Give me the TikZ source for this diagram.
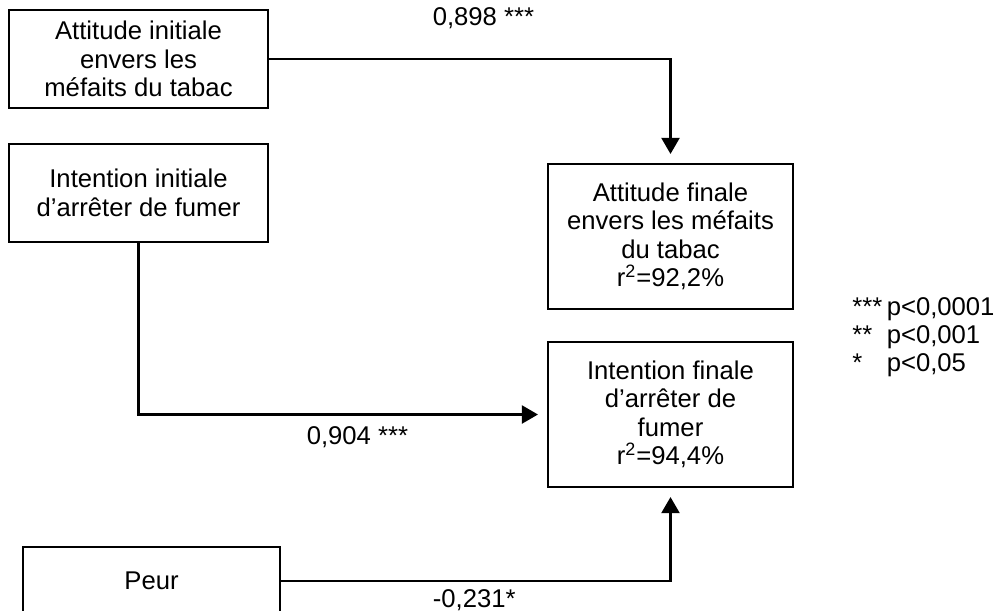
\documentclass[tikz,border=0pt]{standalone}
\usepackage{fontspec}
\setmainfont{Liberation Sans}
\usetikzlibrary{arrows.meta}
\tikzstyle{varini} = [rectangle, minimum width=5.18cm, minimum height=1.96cm, inner sep=0pt, text centered, align=center, draw=black, line width=1.2pt]
\tikzstyle{varfin} = [rectangle, minimum width=4.9cm, minimum height=2.9cm, inner sep=0pt, text centered, align=center, draw=black, line width=1.2pt]
\tikzstyle{peurbox} = [rectangle, minimum width=5.14cm, minimum height=1.36cm, inner sep=0pt, text centered, draw=black, line width=1.2pt]
\tikzstyle{arrow} = [line width=1.2pt, -{Triangle[length=0.32cm,width=0.36cm]}, shorten >=0.18cm]
\tikzstyle{coef} = [anchor=base, inner sep=0pt]

\begin{document}
\begin{tikzpicture}[node distance=2.68cm, font=\fontsize{14.6pt}{16.2pt}\selectfont]
\useasboundingbox (-2.77,1.18) rectangle (17.13,-11.02);

\node (attini) [varini] {Attitude initiale\\envers les\\méfaits du tabac};
\node (intini) [varini, below of=attini] {Intention initiale\\d’arrêter de fumer};
\node (peur) [peurbox, below of=intini, xshift=0.26cm, yshift=-5.08cm] {Peur};

\node (attfin) [varfin, right of=attini, xshift=7.96cm, yshift=-3.55cm] {Attitude finale\\envers les méfaits\\du tabac\\r\textsuperscript{2}=92,2\%};
\node (intfin) [varfin, below of=attfin, yshift=-0.88cm] {Intention finale\\d’arrêter de\\fumer\\r\textsuperscript{2}=94,4\%};

\node (legende) [anchor=base west, inner sep=0pt] at (14.27,-5.12) {\begin{tabular}[t]{@{}l@{\hspace{0.09cm}}l@{}}
{***} & p<0,0001\\
{**} & p<0,001\\
{*} & p<0,05
\end{tabular}};

\draw [arrow] (attini) -| node[coef, pos=0.267, yshift=0.68cm] {0,898 ***} (attfin);
\draw [arrow] (intini) |- node[coef, pos=0.768, yshift=-0.59cm] {0,904 ***} (intfin);
\draw [arrow] (peur) -| node[coef, pos=0.248, yshift=-0.52cm] {-0,231*} (intfin);
\end{tikzpicture}
\end{document}
